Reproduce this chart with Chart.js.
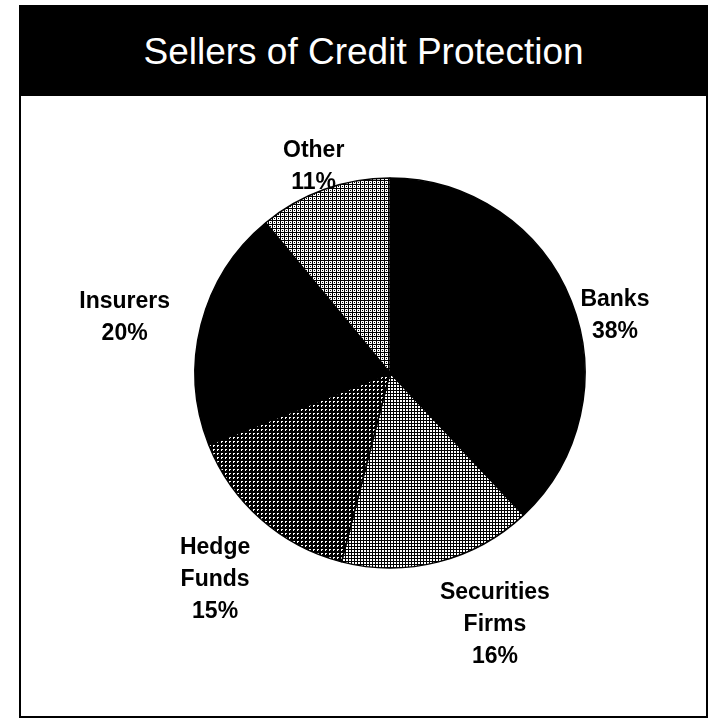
<!DOCTYPE html>
<html>
<head>
<meta charset="utf-8">
<script src="https://cdn.jsdelivr.net/npm/chart.js@4.4.1/dist/chart.umd.min.js"></script>
<style>
  html, body { margin: 0; padding: 0; background: #fff; }
  #page { position: relative; width: 715px; height: 719px; overflow: hidden; }
  #frame {
    position: absolute; left: 19px; top: 5px; width: 685px; height: 709px;
    border: 2px solid #000;
  }
  #titlebar {
    position: absolute; left: 0; top: 0; right: 0; height: 89px;
    background: #000; color: #fff;
    font-family: "Liberation Sans", Arial, sans-serif; font-size: 37px;
    display: flex; align-items: center; justify-content: center;
  }
  #chart { position: absolute; left: 0; top: 0; }
</style>
</head>
<body>
<div id="page">
  <div id="frame"><div id="titlebar">Sellers of Credit Protection</div></div>
  <canvas id="chart" width="715" height="719"></canvas>
</div>
<script>
// data
var categories = ['Banks', 'Securities Firms', 'Hedge Funds', 'Insurers', 'Other'];
var shares = [38, 16, 15, 20, 11];
var labelLines = [['Banks'], ['Securities', 'Firms'], ['Hedge', 'Funds'], ['Insurers'], ['Other']];

// label placement: [distance from centre, angle nudge in degrees]
var labelPlacement = [[232, 7.4], [273, -8.2], [271, -1.2], [271, -2.7], [220, -0.5]];

// halftone fills like the printed original
function makePattern(size, bg, fg, dots) {
    var c = document.createElement('canvas');
    c.width = size;
    c.height = size;
    var g = c.getContext('2d');
    g.fillStyle = bg;
    g.fillRect(0, 0, size, size);
    g.fillStyle = fg;
    dots.forEach(function (d) { g.fillRect(d[0], d[1], 1, 1); });
    return g.createPattern(c, 'repeat');
}

var ctx = document.getElementById('chart').getContext('2d');
var lightGrid = makePattern(3, '#fff', '#000', [[0, 0], [1, 0], [2, 0], [0, 1], [0, 2]]);
var lighterGrid = makePattern(4, '#fff', '#000', [[0, 0], [1, 0], [2, 0], [3, 0], [0, 1], [0, 2], [0, 3], [2, 2]]);
var darkDots = makePattern(4, '#000', '#fff', [[1, 1], [2, 1], [1, 2]]);
var fills = ['#000', lightGrid, darkDots, '#000', lighterGrid];

var sliceLabels = {
    id: 'sliceLabels',
    afterDraw: function (chart) {
        var meta = chart.getDatasetMeta(0);
        var c = chart.ctx;
        c.save();
        c.fillStyle = '#000';
        c.font = 'bold 23px "Liberation Sans", Arial, sans-serif';
        c.textAlign = 'center';
        c.textBaseline = 'middle';
        meta.data.forEach(function (arc, i) {
            var p = arc.getProps(['x', 'y', 'startAngle', 'endAngle'], true);
            var mid = (p.startAngle + p.endAngle) / 2 + labelPlacement[i][1] * Math.PI / 180;
            var cx = p.x + Math.cos(mid) * labelPlacement[i][0];
            var cy = p.y + Math.sin(mid) * labelPlacement[i][0];
            var lines = labelLines[i].concat([shares[i] + '%']);
            var lh = 32;
            var y0 = cy - (lines.length - 1) * lh / 2;
            lines.forEach(function (t, k) {
                c.fillText(t, cx, y0 + k * lh);
            });
        });
        c.restore();
    }
};

new Chart(ctx, {
    type: 'pie',
    data: {
        labels: categories,
        datasets: [{
            data: shares,
            backgroundColor: fills,
            borderColor: '#000',
            borderWidth: 1.5,
            radius: 195
        }]
    },
    options: {
        responsive: false,
        animation: false,
        layout: { padding: { left: 190, right: 125, top: 173, bottom: 146 } },
        plugins: {
            legend: { display: false },
            tooltip: { enabled: false },
            title: { display: false }
        }
    },
    plugins: [sliceLabels]
});
</script>
</body>
</html>
